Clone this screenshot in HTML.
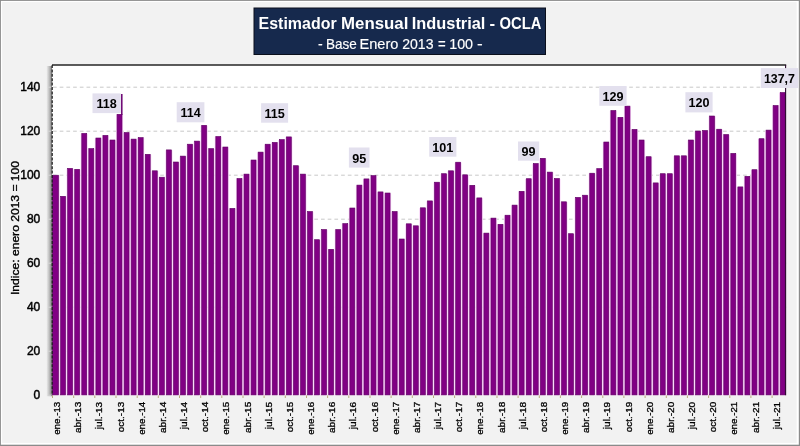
<!DOCTYPE html>
<html><head><meta charset="utf-8"><title>Estimador Mensual Industrial - OCLA</title>
<style>
html,body{margin:0;padding:0;background:#fff;}
#chart{position:relative;width:800px;height:446px;background:#f2f2f2;overflow:hidden;}
#frame{position:absolute;left:0;top:0;width:798px;height:444px;border:1px solid #8a8a8a;box-shadow:inset 0 0 0 1.6px #fff;pointer-events:none;}
</style></head><body>
<div id="chart">
<svg width="800" height="446" viewBox="0 0 800 446" style="position:absolute;left:0;top:0;will-change:transform;font-family:'Liberation Sans',sans-serif">
<defs><linearGradient id="sh" x1="0" x2="1" y1="0" y2="0"><stop offset="0" stop-color="#808080" stop-opacity="0"/><stop offset="0.5" stop-color="#808080" stop-opacity="0.45"/><stop offset="1" stop-color="#6a6a6a" stop-opacity="0.95"/></linearGradient></defs>
<rect x="0" y="0" width="800" height="446" fill="#8b8b8b"/>
<rect x="0.9" y="0.9" width="797.9" height="443.8" fill="#fff"/>
<rect x="2.1" y="2.1" width="794.6" height="440.8" fill="#f2f2f2"/>
<rect x="46.3" y="66.0" width="5.9" height="330.2" fill="url(#sh)"/>
<rect x="52.0" y="65.0" width="734.2" height="330.2" fill="#fff"/>
<line x1="53.0" x2="786.2" y1="351.2" y2="351.2" stroke="#c9c9c9" stroke-width="1" stroke-dasharray="3.7 3"/>
<line x1="53.0" x2="786.2" y1="307.2" y2="307.2" stroke="#c9c9c9" stroke-width="1" stroke-dasharray="3.7 3"/>
<line x1="53.0" x2="786.2" y1="263.2" y2="263.2" stroke="#c9c9c9" stroke-width="1" stroke-dasharray="3.7 3"/>
<line x1="53.0" x2="786.2" y1="219.2" y2="219.2" stroke="#c9c9c9" stroke-width="1" stroke-dasharray="3.7 3"/>
<line x1="53.0" x2="786.2" y1="175.2" y2="175.2" stroke="#c9c9c9" stroke-width="1" stroke-dasharray="3.7 3"/>
<line x1="53.0" x2="786.2" y1="131.2" y2="131.2" stroke="#c9c9c9" stroke-width="1" stroke-dasharray="3.7 3"/>
<line x1="53.0" x2="786.2" y1="87.2" y2="87.2" stroke="#c9c9c9" stroke-width="1" stroke-dasharray="3.7 3"/>
<line x1="48.4" x2="51.6" y1="395.2" y2="395.2" stroke="#d8d8d8" stroke-width="1"/>
<line x1="48.4" x2="51.6" y1="351.2" y2="351.2" stroke="#d8d8d8" stroke-width="1"/>
<line x1="48.4" x2="51.6" y1="307.2" y2="307.2" stroke="#d8d8d8" stroke-width="1"/>
<line x1="48.4" x2="51.6" y1="263.2" y2="263.2" stroke="#d8d8d8" stroke-width="1"/>
<line x1="48.4" x2="51.6" y1="219.2" y2="219.2" stroke="#d8d8d8" stroke-width="1"/>
<line x1="48.4" x2="51.6" y1="175.2" y2="175.2" stroke="#d8d8d8" stroke-width="1"/>
<line x1="48.4" x2="51.6" y1="131.2" y2="131.2" stroke="#d8d8d8" stroke-width="1"/>
<line x1="48.4" x2="51.6" y1="87.2" y2="87.2" stroke="#d8d8d8" stroke-width="1"/>
<line x1="52.0" x2="786.2" y1="65.0" y2="65.0" stroke="#262626" stroke-width="1.4"/>
<g fill="#f8cdf8">
<rect x="52.50" y="175.5" width="7.05" height="219.7"/>
<rect x="59.55" y="196.6" width="7.05" height="198.6"/>
<rect x="66.61" y="168.7" width="7.05" height="226.5"/>
<rect x="73.66" y="169.6" width="7.05" height="225.6"/>
<rect x="80.72" y="133.7" width="7.05" height="261.5"/>
<rect x="87.77" y="148.9" width="7.05" height="246.3"/>
<rect x="94.83" y="138.3" width="7.05" height="256.9"/>
<rect x="101.88" y="135.7" width="7.05" height="259.5"/>
<rect x="108.94" y="140.3" width="7.05" height="254.9"/>
<rect x="115.99" y="114.6" width="7.05" height="280.6"/>
<rect x="123.05" y="132.8" width="7.05" height="262.4"/>
<rect x="130.10" y="139.4" width="7.05" height="255.8"/>
<rect x="137.16" y="137.9" width="7.05" height="257.3"/>
<rect x="144.21" y="154.6" width="7.05" height="240.6"/>
<rect x="151.27" y="171.1" width="7.05" height="224.1"/>
<rect x="158.32" y="177.5" width="7.05" height="217.7"/>
<rect x="165.38" y="150.2" width="7.05" height="245.0"/>
<rect x="172.43" y="162.3" width="7.05" height="232.9"/>
<rect x="179.49" y="156.4" width="7.05" height="238.8"/>
<rect x="186.54" y="144.5" width="7.05" height="250.7"/>
<rect x="193.60" y="141.4" width="7.05" height="253.8"/>
<rect x="200.65" y="125.6" width="7.05" height="269.6"/>
<rect x="207.71" y="148.9" width="7.05" height="246.3"/>
<rect x="214.76" y="136.8" width="7.05" height="258.4"/>
<rect x="221.82" y="147.3" width="7.05" height="247.9"/>
<rect x="228.87" y="208.7" width="7.05" height="186.5"/>
<rect x="235.93" y="178.8" width="7.05" height="216.4"/>
<rect x="242.98" y="174.4" width="7.05" height="220.8"/>
<rect x="250.03" y="160.3" width="7.05" height="234.9"/>
<rect x="257.09" y="152.4" width="7.05" height="242.8"/>
<rect x="264.14" y="144.5" width="7.05" height="250.7"/>
<rect x="271.20" y="142.7" width="7.05" height="252.5"/>
<rect x="278.25" y="139.9" width="7.05" height="255.3"/>
<rect x="285.31" y="137.2" width="7.05" height="258.0"/>
<rect x="292.36" y="166.0" width="7.05" height="229.2"/>
<rect x="299.42" y="174.4" width="7.05" height="220.8"/>
<rect x="306.47" y="211.8" width="7.05" height="183.4"/>
<rect x="313.53" y="240.0" width="7.05" height="155.2"/>
<rect x="320.58" y="229.8" width="7.05" height="165.4"/>
<rect x="327.64" y="249.6" width="7.05" height="145.6"/>
<rect x="334.69" y="229.8" width="7.05" height="165.4"/>
<rect x="341.75" y="223.9" width="7.05" height="171.3"/>
<rect x="348.80" y="208.3" width="7.05" height="186.9"/>
<rect x="355.86" y="185.4" width="7.05" height="209.8"/>
<rect x="362.91" y="179.2" width="7.05" height="216.0"/>
<rect x="369.97" y="175.9" width="7.05" height="219.3"/>
<rect x="377.02" y="192.2" width="7.05" height="203.0"/>
<rect x="384.08" y="193.3" width="7.05" height="201.9"/>
<rect x="391.13" y="211.8" width="7.05" height="183.4"/>
<rect x="398.19" y="239.3" width="7.05" height="155.9"/>
<rect x="405.24" y="224.1" width="7.05" height="171.1"/>
<rect x="412.30" y="226.1" width="7.05" height="169.1"/>
<rect x="419.35" y="208.1" width="7.05" height="187.1"/>
<rect x="426.40" y="201.2" width="7.05" height="194.0"/>
<rect x="433.46" y="182.5" width="7.05" height="212.7"/>
<rect x="440.51" y="174.0" width="7.05" height="221.2"/>
<rect x="447.57" y="171.1" width="7.05" height="224.1"/>
<rect x="454.62" y="162.5" width="7.05" height="232.7"/>
<rect x="461.68" y="175.1" width="7.05" height="220.1"/>
<rect x="468.73" y="185.6" width="7.05" height="209.6"/>
<rect x="475.79" y="198.2" width="7.05" height="197.0"/>
<rect x="482.84" y="233.4" width="7.05" height="161.8"/>
<rect x="489.90" y="218.4" width="7.05" height="176.8"/>
<rect x="496.95" y="224.6" width="7.05" height="170.6"/>
<rect x="504.01" y="215.5" width="7.05" height="179.7"/>
<rect x="511.06" y="205.4" width="7.05" height="189.8"/>
<rect x="518.12" y="191.6" width="7.05" height="203.6"/>
<rect x="525.17" y="179.0" width="7.05" height="216.2"/>
<rect x="532.23" y="163.8" width="7.05" height="231.4"/>
<rect x="539.28" y="158.6" width="7.05" height="236.6"/>
<rect x="546.34" y="172.4" width="7.05" height="222.8"/>
<rect x="553.39" y="178.8" width="7.05" height="216.4"/>
<rect x="560.45" y="202.1" width="7.05" height="193.1"/>
<rect x="567.50" y="234.0" width="7.05" height="161.2"/>
<rect x="574.56" y="197.7" width="7.05" height="197.5"/>
<rect x="581.61" y="195.5" width="7.05" height="199.7"/>
<rect x="588.67" y="173.5" width="7.05" height="221.7"/>
<rect x="595.72" y="168.9" width="7.05" height="226.3"/>
<rect x="602.77" y="142.3" width="7.05" height="252.9"/>
<rect x="609.83" y="110.8" width="7.05" height="284.4"/>
<rect x="616.88" y="117.6" width="7.05" height="277.6"/>
<rect x="623.94" y="106.4" width="7.05" height="288.8"/>
<rect x="630.99" y="129.7" width="7.05" height="265.5"/>
<rect x="638.05" y="140.3" width="7.05" height="254.9"/>
<rect x="645.10" y="157.0" width="7.05" height="238.2"/>
<rect x="652.16" y="183.2" width="7.05" height="212.0"/>
<rect x="659.21" y="174.0" width="7.05" height="221.2"/>
<rect x="666.27" y="174.0" width="7.05" height="221.2"/>
<rect x="673.32" y="156.1" width="7.05" height="239.1"/>
<rect x="680.38" y="156.1" width="7.05" height="239.1"/>
<rect x="687.43" y="140.3" width="7.05" height="254.9"/>
<rect x="694.49" y="131.3" width="7.05" height="263.9"/>
<rect x="701.54" y="130.8" width="7.05" height="264.4"/>
<rect x="708.60" y="116.3" width="7.05" height="278.9"/>
<rect x="715.65" y="129.5" width="7.05" height="265.7"/>
<rect x="722.71" y="134.8" width="7.05" height="260.4"/>
<rect x="729.76" y="153.7" width="7.05" height="241.5"/>
<rect x="736.82" y="187.2" width="7.05" height="208.0"/>
<rect x="743.87" y="176.6" width="7.05" height="218.6"/>
<rect x="750.93" y="170.0" width="7.05" height="225.2"/>
<rect x="757.98" y="139.0" width="7.05" height="256.2"/>
<rect x="765.04" y="130.4" width="7.05" height="264.8"/>
<rect x="772.09" y="105.8" width="7.05" height="289.4"/>
<rect x="779.15" y="92.8" width="7.05" height="302.4"/>
</g>
<g fill="#810084" stroke="#5e0062" stroke-width="0.6">
<rect x="52.30" y="175.2" width="6.18" height="219.7"/>
<rect x="60.63" y="196.3" width="4.9" height="198.6"/>
<rect x="67.69" y="168.4" width="4.9" height="226.5"/>
<rect x="74.74" y="169.3" width="4.9" height="225.6"/>
<rect x="81.80" y="133.4" width="4.9" height="261.5"/>
<rect x="88.85" y="148.6" width="4.9" height="246.3"/>
<rect x="95.91" y="138.0" width="4.9" height="256.9"/>
<rect x="102.96" y="135.4" width="4.9" height="259.5"/>
<rect x="110.02" y="140.0" width="4.9" height="254.9"/>
<rect x="117.07" y="114.3" width="4.9" height="280.6"/>
<rect x="124.13" y="132.5" width="4.9" height="262.4"/>
<rect x="131.18" y="139.1" width="4.9" height="255.8"/>
<rect x="138.24" y="137.6" width="4.9" height="257.3"/>
<rect x="145.29" y="154.3" width="4.9" height="240.6"/>
<rect x="152.34" y="170.8" width="4.9" height="224.1"/>
<rect x="159.40" y="177.2" width="4.9" height="217.7"/>
<rect x="166.45" y="149.9" width="4.9" height="245.0"/>
<rect x="173.51" y="162.0" width="4.9" height="232.9"/>
<rect x="180.56" y="156.1" width="4.9" height="238.8"/>
<rect x="187.62" y="144.2" width="4.9" height="250.7"/>
<rect x="194.67" y="141.1" width="4.9" height="253.8"/>
<rect x="201.73" y="125.3" width="4.9" height="269.6"/>
<rect x="208.78" y="148.6" width="4.9" height="246.3"/>
<rect x="215.84" y="136.5" width="4.9" height="258.4"/>
<rect x="222.89" y="147.0" width="4.9" height="247.9"/>
<rect x="229.95" y="208.4" width="4.9" height="186.5"/>
<rect x="237.00" y="178.5" width="4.9" height="216.4"/>
<rect x="244.06" y="174.1" width="4.9" height="220.8"/>
<rect x="251.11" y="160.0" width="4.9" height="234.9"/>
<rect x="258.17" y="152.1" width="4.9" height="242.8"/>
<rect x="265.22" y="144.2" width="4.9" height="250.7"/>
<rect x="272.28" y="142.4" width="4.9" height="252.5"/>
<rect x="279.33" y="139.6" width="4.9" height="255.3"/>
<rect x="286.39" y="136.9" width="4.9" height="258.0"/>
<rect x="293.44" y="165.7" width="4.9" height="229.2"/>
<rect x="300.50" y="174.1" width="4.9" height="220.8"/>
<rect x="307.55" y="211.5" width="4.9" height="183.4"/>
<rect x="314.61" y="239.7" width="4.9" height="155.2"/>
<rect x="321.66" y="229.5" width="4.9" height="165.4"/>
<rect x="328.71" y="249.3" width="4.9" height="145.6"/>
<rect x="335.77" y="229.5" width="4.9" height="165.4"/>
<rect x="342.82" y="223.6" width="4.9" height="171.3"/>
<rect x="349.88" y="208.0" width="4.9" height="186.9"/>
<rect x="356.93" y="185.1" width="4.9" height="209.8"/>
<rect x="363.99" y="178.9" width="4.9" height="216.0"/>
<rect x="371.04" y="175.6" width="4.9" height="219.3"/>
<rect x="378.10" y="191.9" width="4.9" height="203.0"/>
<rect x="385.15" y="193.0" width="4.9" height="201.9"/>
<rect x="392.21" y="211.5" width="4.9" height="183.4"/>
<rect x="399.26" y="239.0" width="4.9" height="155.9"/>
<rect x="406.32" y="223.8" width="4.9" height="171.1"/>
<rect x="413.37" y="225.8" width="4.9" height="169.1"/>
<rect x="420.43" y="207.8" width="4.9" height="187.1"/>
<rect x="427.48" y="200.9" width="4.9" height="194.0"/>
<rect x="434.54" y="182.2" width="4.9" height="212.7"/>
<rect x="441.59" y="173.7" width="4.9" height="221.2"/>
<rect x="448.65" y="170.8" width="4.9" height="224.1"/>
<rect x="455.70" y="162.2" width="4.9" height="232.7"/>
<rect x="462.76" y="174.8" width="4.9" height="220.1"/>
<rect x="469.81" y="185.3" width="4.9" height="209.6"/>
<rect x="476.87" y="197.9" width="4.9" height="197.0"/>
<rect x="483.92" y="233.1" width="4.9" height="161.8"/>
<rect x="490.98" y="218.1" width="4.9" height="176.8"/>
<rect x="498.03" y="224.3" width="4.9" height="170.6"/>
<rect x="505.09" y="215.2" width="4.9" height="179.7"/>
<rect x="512.14" y="205.1" width="4.9" height="189.8"/>
<rect x="519.19" y="191.3" width="4.9" height="203.6"/>
<rect x="526.25" y="178.7" width="4.9" height="216.2"/>
<rect x="533.30" y="163.5" width="4.9" height="231.4"/>
<rect x="540.36" y="158.3" width="4.9" height="236.6"/>
<rect x="547.41" y="172.1" width="4.9" height="222.8"/>
<rect x="554.47" y="178.5" width="4.9" height="216.4"/>
<rect x="561.52" y="201.8" width="4.9" height="193.1"/>
<rect x="568.58" y="233.7" width="4.9" height="161.2"/>
<rect x="575.63" y="197.4" width="4.9" height="197.5"/>
<rect x="582.69" y="195.2" width="4.9" height="199.7"/>
<rect x="589.74" y="173.2" width="4.9" height="221.7"/>
<rect x="596.80" y="168.6" width="4.9" height="226.3"/>
<rect x="603.85" y="142.0" width="4.9" height="252.9"/>
<rect x="610.91" y="110.5" width="4.9" height="284.4"/>
<rect x="617.96" y="117.3" width="4.9" height="277.6"/>
<rect x="625.02" y="106.1" width="4.9" height="288.8"/>
<rect x="632.07" y="129.4" width="4.9" height="265.5"/>
<rect x="639.13" y="140.0" width="4.9" height="254.9"/>
<rect x="646.18" y="156.7" width="4.9" height="238.2"/>
<rect x="653.24" y="182.9" width="4.9" height="212.0"/>
<rect x="660.29" y="173.7" width="4.9" height="221.2"/>
<rect x="667.35" y="173.7" width="4.9" height="221.2"/>
<rect x="674.40" y="155.8" width="4.9" height="239.1"/>
<rect x="681.46" y="155.8" width="4.9" height="239.1"/>
<rect x="688.51" y="140.0" width="4.9" height="254.9"/>
<rect x="695.56" y="131.0" width="4.9" height="263.9"/>
<rect x="702.62" y="130.5" width="4.9" height="264.4"/>
<rect x="709.67" y="116.0" width="4.9" height="278.9"/>
<rect x="716.73" y="129.2" width="4.9" height="265.7"/>
<rect x="723.78" y="134.5" width="4.9" height="260.4"/>
<rect x="730.84" y="153.4" width="4.9" height="241.5"/>
<rect x="737.89" y="186.9" width="4.9" height="208.0"/>
<rect x="744.95" y="176.3" width="4.9" height="218.6"/>
<rect x="752.00" y="169.7" width="4.9" height="225.2"/>
<rect x="759.06" y="138.7" width="4.9" height="256.2"/>
<rect x="766.11" y="130.1" width="4.9" height="264.8"/>
<rect x="773.17" y="105.5" width="4.9" height="289.4"/>
<rect x="780.22" y="92.5" width="4.9" height="302.4"/>
</g>
<line x1="785.6" x2="785.6" y1="65.0" y2="395.2" stroke="#2a0a2e" stroke-width="1.1"/>
<line x1="52.2" x2="52.2" y1="65.0" y2="395.2" stroke="#1a1a1a" stroke-width="1.2" stroke-dasharray="3 1.4"/>
<line x1="121.8" x2="121.8" y1="94" y2="115" stroke="#6a0070" stroke-width="1.5"/>
<line x1="52.5" x2="52.5" y1="395.4" y2="398.0" stroke="#b9ab7a" stroke-width="1"/>
<line x1="73.7" x2="73.7" y1="395.4" y2="398.0" stroke="#b9ab7a" stroke-width="1"/>
<line x1="94.8" x2="94.8" y1="395.4" y2="398.0" stroke="#b9ab7a" stroke-width="1"/>
<line x1="116.0" x2="116.0" y1="395.4" y2="398.0" stroke="#b9ab7a" stroke-width="1"/>
<line x1="137.2" x2="137.2" y1="395.4" y2="398.0" stroke="#b9ab7a" stroke-width="1"/>
<line x1="158.3" x2="158.3" y1="395.4" y2="398.0" stroke="#b9ab7a" stroke-width="1"/>
<line x1="179.5" x2="179.5" y1="395.4" y2="398.0" stroke="#b9ab7a" stroke-width="1"/>
<line x1="200.7" x2="200.7" y1="395.4" y2="398.0" stroke="#b9ab7a" stroke-width="1"/>
<line x1="221.8" x2="221.8" y1="395.4" y2="398.0" stroke="#b9ab7a" stroke-width="1"/>
<line x1="243.0" x2="243.0" y1="395.4" y2="398.0" stroke="#b9ab7a" stroke-width="1"/>
<line x1="264.1" x2="264.1" y1="395.4" y2="398.0" stroke="#b9ab7a" stroke-width="1"/>
<line x1="285.3" x2="285.3" y1="395.4" y2="398.0" stroke="#b9ab7a" stroke-width="1"/>
<line x1="306.5" x2="306.5" y1="395.4" y2="398.0" stroke="#b9ab7a" stroke-width="1"/>
<line x1="327.6" x2="327.6" y1="395.4" y2="398.0" stroke="#b9ab7a" stroke-width="1"/>
<line x1="348.8" x2="348.8" y1="395.4" y2="398.0" stroke="#b9ab7a" stroke-width="1"/>
<line x1="370.0" x2="370.0" y1="395.4" y2="398.0" stroke="#b9ab7a" stroke-width="1"/>
<line x1="391.1" x2="391.1" y1="395.4" y2="398.0" stroke="#b9ab7a" stroke-width="1"/>
<line x1="412.3" x2="412.3" y1="395.4" y2="398.0" stroke="#b9ab7a" stroke-width="1"/>
<line x1="433.5" x2="433.5" y1="395.4" y2="398.0" stroke="#b9ab7a" stroke-width="1"/>
<line x1="454.6" x2="454.6" y1="395.4" y2="398.0" stroke="#b9ab7a" stroke-width="1"/>
<line x1="475.8" x2="475.8" y1="395.4" y2="398.0" stroke="#b9ab7a" stroke-width="1"/>
<line x1="497.0" x2="497.0" y1="395.4" y2="398.0" stroke="#b9ab7a" stroke-width="1"/>
<line x1="518.1" x2="518.1" y1="395.4" y2="398.0" stroke="#b9ab7a" stroke-width="1"/>
<line x1="539.3" x2="539.3" y1="395.4" y2="398.0" stroke="#b9ab7a" stroke-width="1"/>
<line x1="560.4" x2="560.4" y1="395.4" y2="398.0" stroke="#b9ab7a" stroke-width="1"/>
<line x1="581.6" x2="581.6" y1="395.4" y2="398.0" stroke="#b9ab7a" stroke-width="1"/>
<line x1="602.8" x2="602.8" y1="395.4" y2="398.0" stroke="#b9ab7a" stroke-width="1"/>
<line x1="623.9" x2="623.9" y1="395.4" y2="398.0" stroke="#b9ab7a" stroke-width="1"/>
<line x1="645.1" x2="645.1" y1="395.4" y2="398.0" stroke="#b9ab7a" stroke-width="1"/>
<line x1="666.3" x2="666.3" y1="395.4" y2="398.0" stroke="#b9ab7a" stroke-width="1"/>
<line x1="687.4" x2="687.4" y1="395.4" y2="398.0" stroke="#b9ab7a" stroke-width="1"/>
<line x1="708.6" x2="708.6" y1="395.4" y2="398.0" stroke="#b9ab7a" stroke-width="1"/>
<line x1="729.8" x2="729.8" y1="395.4" y2="398.0" stroke="#b9ab7a" stroke-width="1"/>
<line x1="750.9" x2="750.9" y1="395.4" y2="398.0" stroke="#b9ab7a" stroke-width="1"/>
<line x1="772.1" x2="772.1" y1="395.4" y2="398.0" stroke="#b9ab7a" stroke-width="1"/>
<g font-size="9.4" fill="#000" stroke="#000" stroke-width="0.3">
<text transform="translate(60.1,401.8) rotate(-90)" text-anchor="end" textLength="33.0" lengthAdjust="spacingAndGlyphs">ene.-13</text>
<text transform="translate(81.3,401.8) rotate(-90)" text-anchor="end" textLength="31.2" lengthAdjust="spacingAndGlyphs">abr.-13</text>
<text transform="translate(102.4,401.8) rotate(-90)" text-anchor="end" textLength="27.4" lengthAdjust="spacingAndGlyphs">jul.-13</text>
<text transform="translate(123.6,401.8) rotate(-90)" text-anchor="end" textLength="30.4" lengthAdjust="spacingAndGlyphs">oct.-13</text>
<text transform="translate(144.8,401.8) rotate(-90)" text-anchor="end" textLength="33.0" lengthAdjust="spacingAndGlyphs">ene.-14</text>
<text transform="translate(165.9,401.8) rotate(-90)" text-anchor="end" textLength="31.2" lengthAdjust="spacingAndGlyphs">abr.-14</text>
<text transform="translate(187.1,401.8) rotate(-90)" text-anchor="end" textLength="27.4" lengthAdjust="spacingAndGlyphs">jul.-14</text>
<text transform="translate(208.3,401.8) rotate(-90)" text-anchor="end" textLength="30.4" lengthAdjust="spacingAndGlyphs">oct.-14</text>
<text transform="translate(229.4,401.8) rotate(-90)" text-anchor="end" textLength="33.0" lengthAdjust="spacingAndGlyphs">ene.-15</text>
<text transform="translate(250.6,401.8) rotate(-90)" text-anchor="end" textLength="31.2" lengthAdjust="spacingAndGlyphs">abr.-15</text>
<text transform="translate(271.7,401.8) rotate(-90)" text-anchor="end" textLength="27.4" lengthAdjust="spacingAndGlyphs">jul.-15</text>
<text transform="translate(292.9,401.8) rotate(-90)" text-anchor="end" textLength="30.4" lengthAdjust="spacingAndGlyphs">oct.-15</text>
<text transform="translate(314.1,401.8) rotate(-90)" text-anchor="end" textLength="33.0" lengthAdjust="spacingAndGlyphs">ene.-16</text>
<text transform="translate(335.2,401.8) rotate(-90)" text-anchor="end" textLength="31.2" lengthAdjust="spacingAndGlyphs">abr.-16</text>
<text transform="translate(356.4,401.8) rotate(-90)" text-anchor="end" textLength="27.4" lengthAdjust="spacingAndGlyphs">jul.-16</text>
<text transform="translate(377.6,401.8) rotate(-90)" text-anchor="end" textLength="30.4" lengthAdjust="spacingAndGlyphs">oct.-16</text>
<text transform="translate(398.7,401.8) rotate(-90)" text-anchor="end" textLength="33.0" lengthAdjust="spacingAndGlyphs">ene.-17</text>
<text transform="translate(419.9,401.8) rotate(-90)" text-anchor="end" textLength="31.2" lengthAdjust="spacingAndGlyphs">abr.-17</text>
<text transform="translate(441.1,401.8) rotate(-90)" text-anchor="end" textLength="27.4" lengthAdjust="spacingAndGlyphs">jul.-17</text>
<text transform="translate(462.2,401.8) rotate(-90)" text-anchor="end" textLength="30.4" lengthAdjust="spacingAndGlyphs">oct.-17</text>
<text transform="translate(483.4,401.8) rotate(-90)" text-anchor="end" textLength="33.0" lengthAdjust="spacingAndGlyphs">ene.-18</text>
<text transform="translate(504.6,401.8) rotate(-90)" text-anchor="end" textLength="31.2" lengthAdjust="spacingAndGlyphs">abr.-18</text>
<text transform="translate(525.7,401.8) rotate(-90)" text-anchor="end" textLength="27.4" lengthAdjust="spacingAndGlyphs">jul.-18</text>
<text transform="translate(546.9,401.8) rotate(-90)" text-anchor="end" textLength="30.4" lengthAdjust="spacingAndGlyphs">oct.-18</text>
<text transform="translate(568.0,401.8) rotate(-90)" text-anchor="end" textLength="33.0" lengthAdjust="spacingAndGlyphs">ene.-19</text>
<text transform="translate(589.2,401.8) rotate(-90)" text-anchor="end" textLength="31.2" lengthAdjust="spacingAndGlyphs">abr.-19</text>
<text transform="translate(610.4,401.8) rotate(-90)" text-anchor="end" textLength="27.4" lengthAdjust="spacingAndGlyphs">jul.-19</text>
<text transform="translate(631.5,401.8) rotate(-90)" text-anchor="end" textLength="30.4" lengthAdjust="spacingAndGlyphs">oct.-19</text>
<text transform="translate(652.7,401.8) rotate(-90)" text-anchor="end" textLength="33.0" lengthAdjust="spacingAndGlyphs">ene.-20</text>
<text transform="translate(673.9,401.8) rotate(-90)" text-anchor="end" textLength="31.2" lengthAdjust="spacingAndGlyphs">abr.-20</text>
<text transform="translate(695.0,401.8) rotate(-90)" text-anchor="end" textLength="27.4" lengthAdjust="spacingAndGlyphs">jul.-20</text>
<text transform="translate(716.2,401.8) rotate(-90)" text-anchor="end" textLength="30.4" lengthAdjust="spacingAndGlyphs">oct.-20</text>
<text transform="translate(737.4,401.8) rotate(-90)" text-anchor="end" textLength="33.0" lengthAdjust="spacingAndGlyphs">ene.-21</text>
<text transform="translate(758.5,401.8) rotate(-90)" text-anchor="end" textLength="31.2" lengthAdjust="spacingAndGlyphs">abr.-21</text>
<text transform="translate(779.7,401.8) rotate(-90)" text-anchor="end" textLength="27.4" lengthAdjust="spacingAndGlyphs">jul.-21</text>
</g>
<g font-size="12" fill="#000" stroke="#000" stroke-width="0.45" text-anchor="end">
<text x="40.3" y="399.2">0</text>
<text x="40.3" y="355.2">20</text>
<text x="40.3" y="311.2">40</text>
<text x="40.3" y="267.2">60</text>
<text x="40.3" y="223.2">80</text>
<text x="40.3" y="179.2">100</text>
<text x="40.3" y="135.2">120</text>
<text x="40.3" y="91.2">140</text>
</g>
<text transform="translate(19.1,228) rotate(-90)" text-anchor="middle" font-size="11.8" fill="#000" stroke="#000" stroke-width="0.35" textLength="134" lengthAdjust="spacingAndGlyphs">Indice: enero 2013 = 100</text>
<rect x="92.5" y="93.4" width="28.4" height="19.7" fill="#e3e0ee"/>
<text x="106.7" y="108.3" text-anchor="middle" font-size="12.6" font-weight="bold" fill="#000">118</text>
<rect x="176.7" y="102.2" width="27.7" height="20.1" fill="#e3e0ee"/>
<text x="190.6" y="117.3" text-anchor="middle" font-size="12.6" font-weight="bold" fill="#000">114</text>
<rect x="261.1" y="103.2" width="27.0" height="19.5" fill="#e3e0ee"/>
<text x="274.6" y="118.0" text-anchor="middle" font-size="12.6" font-weight="bold" fill="#000">115</text>
<rect x="348.9" y="147.5" width="20.6" height="20.1" fill="#e3e0ee"/>
<text x="359.2" y="162.7" text-anchor="middle" font-size="12.6" font-weight="bold" fill="#000">95</text>
<rect x="429.2" y="137.0" width="27.2" height="19.7" fill="#e3e0ee"/>
<text x="442.8" y="151.9" text-anchor="middle" font-size="12.6" font-weight="bold" fill="#000">101</text>
<rect x="518" y="141.5" width="21.2" height="19.2" fill="#e3e0ee"/>
<text x="528.6" y="156.2" text-anchor="middle" font-size="12.6" font-weight="bold" fill="#000">99</text>
<rect x="599.3" y="86" width="27.3" height="19.8" fill="#e3e0ee"/>
<text x="613.0" y="101.0" text-anchor="middle" font-size="12.6" font-weight="bold" fill="#000">129</text>
<rect x="685.4" y="92.2" width="27.2" height="20.2" fill="#e3e0ee"/>
<text x="699.0" y="107.4" text-anchor="middle" font-size="12.6" font-weight="bold" fill="#000">120</text>
<rect x="760.8" y="68.1" width="37.4" height="19.9" fill="#e3e0ee"/>
<text x="794.9" y="82.8" text-anchor="end" font-size="12.4" font-weight="bold" fill="#000">137,7</text>
<rect x="254" y="8" width="291.5" height="46.5" fill="#16294d" stroke="#0a0f1c" stroke-width="1"/>
<text y="28.9" font-size="16.3" font-weight="bold" fill="#fff"><tspan x="258.6" textLength="78" lengthAdjust="spacingAndGlyphs">Estimador</tspan> <tspan x="341" textLength="67.4" lengthAdjust="spacingAndGlyphs">Mensual</tspan> <tspan x="411.8" textLength="73.6" lengthAdjust="spacingAndGlyphs">Industrial</tspan> <tspan x="489.6" textLength="5.6" lengthAdjust="spacingAndGlyphs">-</tspan> <tspan x="499.4" textLength="42" lengthAdjust="spacingAndGlyphs">OCLA</tspan></text>
<text y="48.7" font-size="14.3" fill="#fff" stroke="#fff" stroke-width="0.15"><tspan x="317.9" textLength="4.7" lengthAdjust="spacingAndGlyphs">-</tspan> <tspan x="325.9" textLength="30.8" lengthAdjust="spacingAndGlyphs">Base</tspan> <tspan x="359.5" textLength="38.9" lengthAdjust="spacingAndGlyphs">Enero</tspan> <tspan x="402.2" textLength="31.3" lengthAdjust="spacingAndGlyphs">2013</tspan> <tspan x="438.0" textLength="7.7" lengthAdjust="spacingAndGlyphs">=</tspan> <tspan x="449.2" textLength="23.9" lengthAdjust="spacingAndGlyphs">100</tspan> <tspan x="477.0" textLength="5.7" lengthAdjust="spacingAndGlyphs">-</tspan></text>
</svg>
</div>
</body></html>
